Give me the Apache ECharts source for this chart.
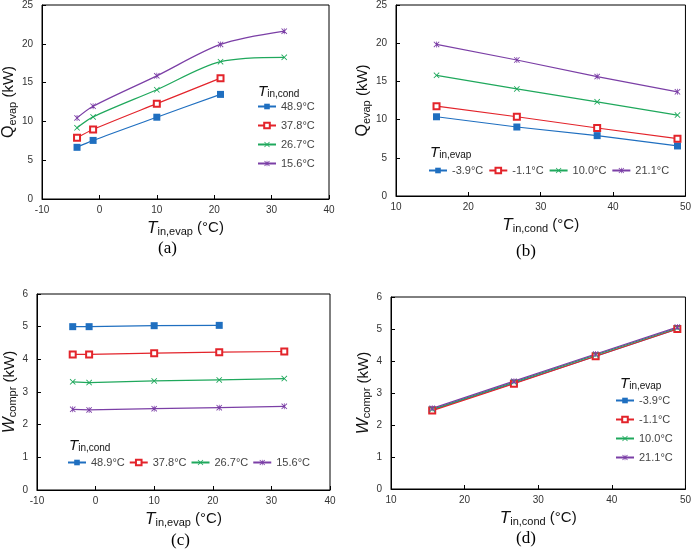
<!DOCTYPE html>
<html>
<head>
<meta charset="utf-8">
<script src="https://cdn.jsdelivr.net/npm/echarts@6/dist/echarts.min.js"></script>
</head>
<body style="margin:0;background:#fff;">
<div id="chart" style="width:694px;height:554px;"></div>
<script type="text/javascript">
    // x values
    var tEvap = [-3.9, -1.1, 10.0, 21.1, 32.2];
    var tCond = [15.6, 26.7, 37.8, 48.9];

    // (a) Q_evap vs T_in,evap, one line per T_in,cond
    var qa489 = [6.66, 7.55, 10.54, 13.48];
    var qa378 = [7.9, 8.96, 12.29, 15.57];
    var qa267 = [9.17, 10.58, 14.08, 17.7, 18.26];
    var qa156 = [10.45, 11.95, 15.87, 19.92, 21.63];

    // (b) Q_evap vs T_in,cond, one line per T_in,evap
    var qbM39 = [10.37, 9.03, 7.9, 6.55];
    var qbM11 = [11.76, 10.37, 8.9, 7.5];
    var qb100 = [15.8, 14.02, 12.33, 10.59];
    var qb211 = [19.84, 17.8, 15.63, 13.63];

    // (c) W_compr vs T_in,evap
    var wc489 = [5.0, 5.0, 5.03, 5.04];
    var wc378 = [4.15, 4.15, 4.19, 4.22, 4.24];
    var wc267 = [3.31, 3.29, 3.34, 3.37, 3.41];
    var wc156 = [2.47, 2.45, 2.49, 2.52, 2.56];

    // (d) W_compr vs T_in,cond
    var wdM39 = [2.47, 3.31, 4.15, 5.0];
    var wdM11 = [2.45, 3.29, 4.15, 5.0];
    var wd100 = [2.49, 3.34, 4.19, 5.03];
    var wd211 = [2.52, 3.37, 4.22, 5.06];

    var condNames = ['48.9°C', '37.8°C', '26.7°C', '15.6°C'];
    var evapNames = ['-3.9°C', '-1.1°C', '10.0°C', '21.1°C'];

    var colors = ['#1f6fc0', '#e3242b', '#1fa85c', '#7b3fa6'];
    var crossPath = 'path://M0,1L1,0L5,4L9,0L10,1L6,5L10,9L9,10L5,6L1,10L0,9L4,5Z';
    var starPath = 'path://M0,1L1,0L5,4L9,0L10,1L6,5L10,9L9,10L5,6L1,10L0,9L4,5ZM4.4,0L5.6,0L5.6,10L4.4,10Z';
    var symbols = ['rect', 'emptyRect', crossPath, starPath];
    var symSizes = [7, 6, 6, 6];

    function pairs(xs, ys) {
        var out = [];
        for (var i = 0; i < ys.length; i++) out.push([xs[i], ys[i]]);
        return out;
    }

    var font = 'Liberation Sans, Arial, sans-serif';
    var richName = {
        i: {fontStyle: 'italic', fontSize: 17, fontFamily: font, color: '#111'},
        q: {fontSize: 16, fontFamily: font, color: '#111'},
        s: {fontSize: 11, fontFamily: font, color: '#111', padding: [7, 0, 0, 0]},
        n: {fontSize: 15, fontFamily: font, color: '#111'}
    };

    function xAxis(idx, min, max, name) {
        return {
            type: 'value', gridIndex: idx, min: min, max: max, interval: 10,
            name: name, nameLocation: 'middle', nameGap: 20,
            nameTextStyle: {rich: richName},
            axisLine: {onZero: false, lineStyle: {color: '#000', width: 1}},
            axisTick: {inside: true, length: 4, lineStyle: {color: '#000'}},
            axisLabel: {color: '#333', fontSize: 10, fontFamily: font, margin: 6},
            splitLine: {show: false}
        };
    }
    function yAxis(idx, max, interval, name) {
        return {
            type: 'value', gridIndex: idx, min: 0, max: max, interval: interval,
            name: name, nameLocation: 'middle', nameGap: 18,
            nameTextStyle: {rich: richName},
            axisLine: {show: true, onZero: false, lineStyle: {color: '#000', width: 1}},
            axisTick: {show: true, inside: true, length: 4, lineStyle: {color: '#000'}},
            axisLabel: {color: '#333', fontSize: 10, fontFamily: font, margin: 9},
            splitLine: {show: false}
        };
    }

    var series = [];
    function addSeries(idx, names, xs, lists, smooth) {
        for (var k = 0; k < lists.length; k++) {
            series.push({
                type: 'line', name: names[k], xAxisIndex: idx, yAxisIndex: idx,
                data: pairs(xs, lists[k]), smooth: smooth,
                symbol: symbols[k], symbolSize: symSizes[k],
                lineStyle: {color: colors[k], width: 1.2},
                itemStyle: {color: colors[k], borderColor: colors[k], borderWidth: k == 1 ? 1 : 0},
                animation: false
            });
        }
    }
    addSeries(0, condNames, tEvap, [qa489, qa378, qa267, qa156], 0.3);
    addSeries(1, evapNames, tCond, [qbM39, qbM11, qb100, qb211], false);
    addSeries(2, condNames, tEvap, [wc489, wc378, wc267, wc156], false);
    addSeries(3, evapNames, tCond, [wdM39, wdM11, wd100, wd211], false);

    var legendText = {color: '#444', fontSize: 11, fontFamily: font};
    function legendTitle(x, y, sub) {
        return {
            type: 'text', left: x, top: y,
            style: {text: '{i|T}{s|' + sub + '}', rich: {
                i: {fontStyle: 'italic', fontSize: 15, fontFamily: font, fill: '#111'},
                s: {fontSize: 10, fontFamily: font, fill: '#111', padding: [6, 0, 0, 0]}
            }}
        };
    }
    function caption(x, y, t) {
        return {type: 'text', left: x, top: y,
            style: {text: t, fontSize: 17, fontFamily: 'Liberation Serif, Times New Roman, serif', fill: '#000'}};
    }

    var chart = echarts.init(document.getElementById('chart'));
    chart.setOption({
        backgroundColor: '#fff',
        animation: false,
        grid: [
            {left: 37, top: 4, width: 292, height: 195, show: true, borderColor: '#000', borderWidth: 1},
            {left: 396, top: 4, width: 294, height: 192, show: true, borderColor: '#000', borderWidth: 1},
            {left: 32, top: 294, width: 298, height: 196, show: true, borderColor: '#000', borderWidth: 1},
            {left: 391, top: 297, width: 296, height: 192, show: true, borderColor: '#000', borderWidth: 1}
        ],
        xAxis: [
            xAxis(0, -10, 40, '{i|T}{s|in,evap}{n| (°C)}'),
            xAxis(1, 10, 50, '{i|T}{s|in,cond}{n| (°C)}'),
            xAxis(2, -10, 40, '{i|T}{s|in,evap}{n| (°C)}'),
            xAxis(3, 10, 50, '{i|T}{s|in,cond}{n| (°C)}')
        ],
        yAxis: [
            yAxis(0, 25, 5, '{q|Q}{s|evap}{n| (kW)}'),
            yAxis(1, 25, 5, '{q|Q}{s|evap}{n| (kW)}'),
            yAxis(2, 6, 1, '{i|W}{s|compr}{n| (kW)}'),
            yAxis(3, 6, 1, '{i|W}{s|compr}{n| (kW)}')
        ],
        legend: [
            {data: condNames, orient: 'vertical', left: 257, top: 101, padding: 0, itemWidth: 18, itemHeight: 7, itemGap: 8, textStyle: legendText},
            {data: evapNames, orient: 'horizontal', left: 428, top: 165, padding: 0, itemWidth: 18, itemHeight: 7, itemGap: 5, textStyle: legendText},
            {data: condNames, orient: 'horizontal', left: 67, top: 457, padding: 0, itemWidth: 18, itemHeight: 7, itemGap: 4, textStyle: legendText},
            {data: evapNames, orient: 'vertical', left: 615, top: 395, padding: 0, itemWidth: 18, itemHeight: 7, itemGap: 8, textStyle: legendText}
        ],
        graphic: [
            legendTitle(258, 84, 'in,cond'),
            legendTitle(430, 145, 'in,evap'),
            legendTitle(69, 438, 'in,cond'),
            legendTitle(620, 376, 'in,evap'),
            caption(158, 240, '(a)'),
            caption(516, 243, '(b)'),
            caption(171, 532, '(c)'),
            caption(516, 530, '(d)')
        ],
        series: series
    });
</script>
</body>
</html>
